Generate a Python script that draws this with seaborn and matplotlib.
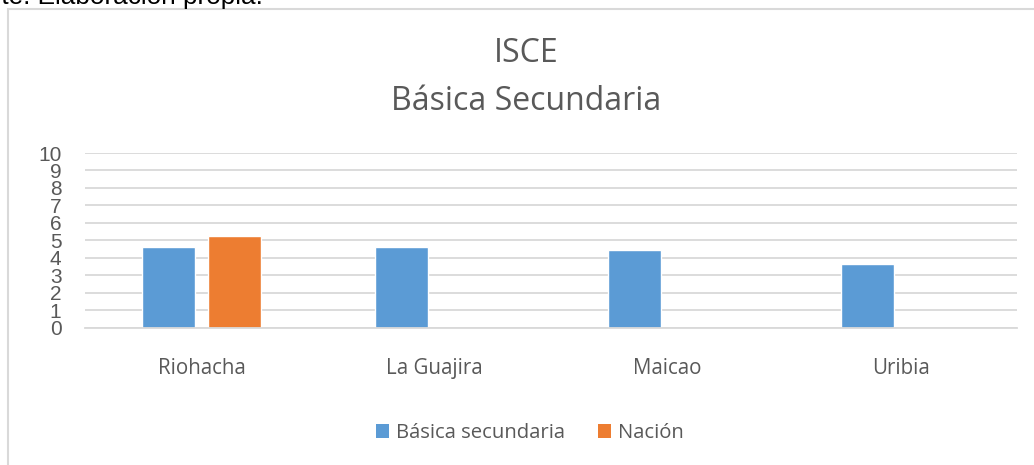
import numpy as np
import pandas as pd
import matplotlib
matplotlib.use("Agg")
import matplotlib.pyplot as plt
import seaborn as sns
from matplotlib.patches import Rectangle, Patch

categories = ["Riohacha", "La Guajira", "Maicao", "Uribia"]
basica_secundaria = [4.62, 4.62, 4.43, 3.63]
nacion = [5.24, np.nan, np.nan, np.nan]
series_names = ["Básica secundaria", "Nación"]
yticks = list(range(0, 11))
colors = ["#5B9BD5", "#ED7D31"]

df = pd.DataFrame({
    "cat": categories * 2,
    "serie": [series_names[0]] * 4 + [series_names[1]] * 4,
    "val": basica_secundaria + nacion,
})

sns.set_theme(style="white")
plt.rcParams["font.family"] = ["Liberation Sans", "DejaVu Sans"]

fig = plt.figure(figsize=(10.34, 4.65), dpi=100)
L, R = 85 / 1034, 1017 / 1034
ax = fig.add_axes([L, 1 - 327.5 / 465, R - L, 174.5 / 465])

sns.barplot(data=df, x="cat", y="val", hue="serie", order=categories,
            hue_order=series_names, palette=colors, width=0.57, gap=0.2,
            saturation=1, ax=ax, legend=False, errorbar=None)

ax.set_ylim(0, 10)
ax.set_xlim(-0.5, 3.5)
ax.set_yticks(yticks)
ax.set_yticklabels([str(t) for t in yticks], fontsize=15, color="#595959")
ax.yaxis.grid(True, color="#d9d9d9", lw=1.3)
ax.set_axisbelow(True)
for s in ["top", "right", "left"]:
    ax.spines[s].set_visible(False)
ax.spines["bottom"].set_color("#d9d9d9")
ax.spines["bottom"].set_linewidth(1.3)
ax.tick_params(axis="y", length=0, pad=17)
ax.tick_params(axis="x", length=0, pad=22)
for lab in ax.get_xticklabels():
    lab.set_fontfamily(["Open Sans", "DejaVu Sans"])
    lab.set_fontsize(14.8)
    lab.set_color("#595959")
ax.set_xlabel("")
ax.set_ylabel("")

# chart border
fig.patches.append(Rectangle((8 / 1034, -0.1), 1.2, 1 - 9.5 / 465 + 0.1,
                             transform=fig.transFigure, fill=False,
                             edgecolor="#d9d9d9", lw=1.5))

# source line, cut off at the top-left as in the original
fig.text(263 / 1034, 1 - 4 / 465, "Fuente: Elaboración propia.", ha="right",
         va="baseline", fontsize=18.8, color="#000000")

cx = 0.5085
fig.text(cx, 1 - 54 / 465, "ISCE", ha="center", va="center",
         fontsize=23, color="#595959", family=["Open Sans", "DejaVu Sans"])
fig.text(cx, 1 - 101 / 465, "Básica Secundaria", ha="center", va="center",
         fontsize=23, color="#595959", family=["Open Sans", "DejaVu Sans"])

handles = [Patch(facecolor=c, edgecolor="none") for c in colors]
fig.legend(handles, series_names, loc="center", bbox_to_anchor=(530 / 1034, 1 - 433 / 465),
           ncol=2, frameon=False, handlelength=0.65, handleheight=0.65,
           handletextpad=0.35, columnspacing=1.6,
           prop={"family": ["Open Sans", "DejaVu Sans"], "size": 14.6},
           labelcolor="#595959")

fig.savefig("out.png", dpi=100)
